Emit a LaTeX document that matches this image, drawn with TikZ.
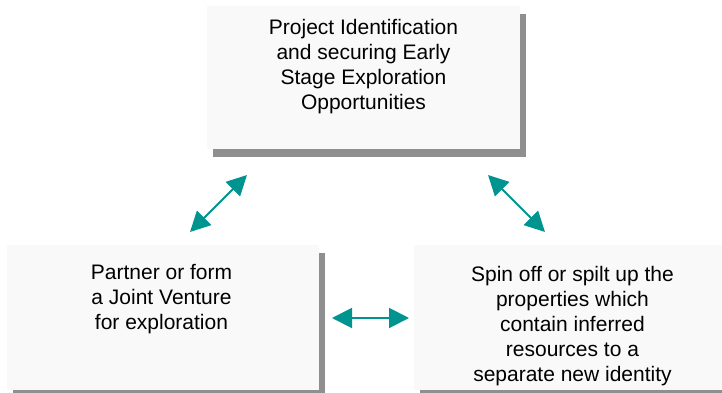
\documentclass[tikz,border=0pt]{standalone}
\usepackage{fontspec}
\setmainfont{Liberation Sans}
\usetikzlibrary{arrows.meta}
\definecolor{teal1}{HTML}{009490}
\definecolor{boxfill}{HTML}{F9F9F9}
\definecolor{shadowgray}{HTML}{8F8F8F}
\tikzset{
  boxtext/.style={align=center, anchor=north, inner sep=0pt, font=\fontsize{21}{25}\selectfont, text=black},
  link/.style={draw=teal1, line width=2pt, {Triangle[length=20pt,width=20pt]}-{Triangle[length=20pt,width=20pt]}}
}
\begin{document}
\begin{tikzpicture}[x=1pt,y=-1pt]
\useasboundingbox (0,0) rectangle (722,393);
\clip (0,0) rectangle (722,393);
\fill[white] (0,0) rectangle (722,393);
% shadows
\fill[shadowgray] (213,14) rectangle (526,157);
\fill[shadowgray] (13,253) rectangle (325,398);
\fill[shadowgray] (420,253) rectangle (737,398);
% boxes
\fill[boxfill] (207,6) rectangle (520,149);
\fill[boxfill] (7,245) rectangle (319,390);
\fill[boxfill] (414,245) rectangle (731,390);
% texts
\node[boxtext] (top) at (363.5,19) {Project Identification\\and securing Early\\Stage Exploration\\Opportunities};
\node[boxtext] (left) at (161.5,264) {Partner or form\\a Joint Venture\\for exploration};
\node[boxtext] (right) at (572.5,266) {Spin off or spilt up the\\properties which\\contain inferred\\resources to a\\separate new identity};
% arrows
\coordinate (a1) at (190,232);
\coordinate (b1) at (247,175);
\coordinate (a2) at (488,175);
\coordinate (b2) at (545,232);
\coordinate (a3) at (332,318);
\coordinate (b3) at (409,318);
\draw[link] (a1) -- (b1);
\draw[link] (a2) -- (b2);
\draw[link] (a3) -- (b3);
\end{tikzpicture}
\end{document}
